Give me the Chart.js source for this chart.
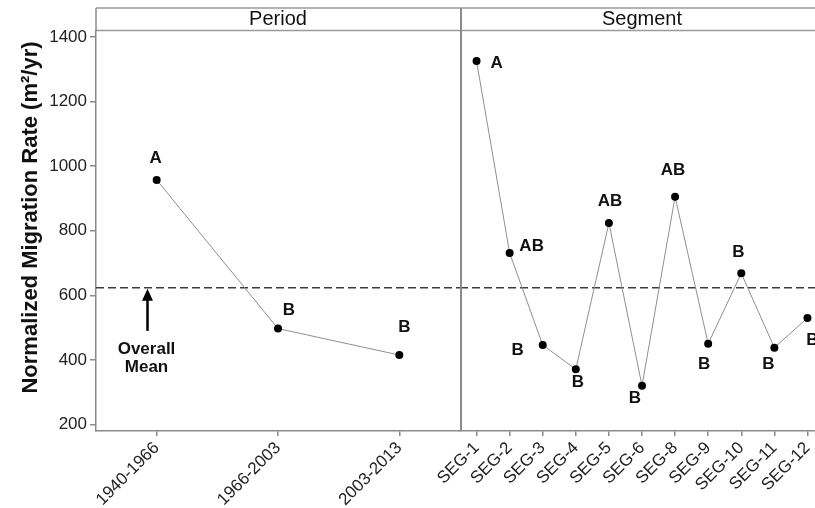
<!DOCTYPE html>
<html>
<head>
<meta charset="utf-8">
<title>Normalized Migration Rate by Period and Segment</title>
<script src="https://cdn.jsdelivr.net/npm/chart.js@4/dist/chart.umd.min.js"></script>
<style>
  html, body { margin: 0; padding: 0; background: #fff; overflow: hidden; }
  #wrap { position: relative; width: 815px; height: 508px; overflow: hidden; background: #fff; }
  #wrap canvas { position: absolute; top: 0; }
  #periodCanvas { left: 0; }
  #segmentCanvas { left: 380px; }
</style>
</head>
<body>
<div id="wrap">
  <canvas id="periodCanvas" width="460" height="508"></canvas>
  <canvas id="segmentCanvas" width="444" height="508"></canvas>
</div>
<script>
// ---- data ----
const periodLabels = ['1940-1966', '1966-2003', '2003-2013'];
const periodRates = [957, 497, 415];
const periodGroups = ['A', 'B', 'B'];

const segmentLabels = ['SEG-1', 'SEG-2', 'SEG-3', 'SEG-4', 'SEG-5', 'SEG-6',
                       'SEG-8', 'SEG-9', 'SEG-10', 'SEG-11', 'SEG-12'];
const segmentRates = [1325, 731, 446, 371, 824, 320, 905, 450, 668, 438, 530];
const segmentGroups = ['A', 'AB', 'B', 'B', 'AB', 'B', 'AB', 'B', 'B', 'B', 'B'];

const overallMean = 623;
const yTickValues = [200, 400, 600, 800, 1000, 1200, 1400];
const yTitle = 'Normalized Migration Rate (m\u00B2/yr)';
const meanNote = ['Overall', 'Mean'];

// ---- layout / style ----
const FONT = "'Liberation Sans', Arial, Helvetica, sans-serif";
const AXIS_GREY = '#8a8a8a';
const STRIP_TOP = 8;
const PLOT_TOP = 31;
const X_AXIS_H = 77;
const Y_AXIS_W = 96;
const SEG_LEFT_PAD = 80;   // room on the segment canvas for the first rotated label
const Y_MIN = 180, Y_MAX = 1418;
const TITLE_X = 31;        // centre of the vertical axis title

// letter placement relative to each point (px)
const periodLetterOffsets = [[-1, -22], [11, -18], [5, -28]];
const segmentLetterOffsets = [[20, 2], [22, -7], [-25, 5], [2, 13], [1, -22], [-7, 13],
                              [-2, -26], [-4, 21], [-3, -21], [-6, 17], [5, 22]];

function panelPlugin(cfg) {
  return {
    id: 'panelDecor',
    beforeDatasetsDraw(chart) {
      const { ctx, chartArea } = chart;
      const y = chart.scales.y.getPixelForValue(overallMean);
      ctx.save();
      ctx.strokeStyle = '#3c3c3c';
      ctx.lineWidth = 1.5;
      ctx.setLineDash([8, 4]);
      ctx.beginPath();
      ctx.moveTo(chartArea.left, y);
      ctx.lineTo(chart.width, y);
      ctx.stroke();
      ctx.restore();
    },
    afterDraw(chart) {
      const { ctx, chartArea } = chart;
      const yScale = chart.scales.y;
      ctx.save();
      // strip header
      ctx.strokeStyle = '#9a9a9a';
      ctx.lineWidth = 1.5;
      ctx.beginPath();
      ctx.moveTo(chartArea.left, STRIP_TOP);
      ctx.lineTo(chart.width, STRIP_TOP);
      ctx.moveTo(chartArea.left, PLOT_TOP - 0.5);
      ctx.lineTo(chart.width, PLOT_TOP - 0.5);
      ctx.stroke();
      ctx.strokeStyle = AXIS_GREY;
      ctx.beginPath();
      if (cfg.first) {
        ctx.moveTo(chartArea.left, STRIP_TOP);
        ctx.lineTo(chartArea.left, PLOT_TOP);
      } else {
        ctx.lineWidth = 2;
        ctx.moveTo(chartArea.left + 1, STRIP_TOP);
        ctx.lineTo(chartArea.left + 1, chartArea.bottom);
      }
      ctx.stroke();
      ctx.fillStyle = '#111';
      ctx.font = '20px ' + FONT;
      ctx.textAlign = 'center';
      ctx.textBaseline = 'middle';
      ctx.fillText(cfg.strip, (chartArea.left + chartArea.right) / 2, (STRIP_TOP + PLOT_TOP) / 2);

      // grouping letters
      const meta = chart.getDatasetMeta(0);
      ctx.font = 'bold 17px ' + FONT;
      meta.data.forEach((pt, i) => {
        const off = cfg.offsets[i];
        ctx.fillText(cfg.groups[i], pt.x + off[0], pt.y + off[1]);
      });

      if (cfg.first) {
        // vertical axis title, centred on the whole panel (strip included)
        ctx.save();
        ctx.translate(TITLE_X, (STRIP_TOP + chartArea.bottom) / 2 - 2);
        ctx.rotate(-Math.PI / 2);
        ctx.fillStyle = '#111';
        ctx.font = 'bold 22px ' + FONT;
        ctx.fillText(yTitle, 0, 0);
        ctx.restore();

        // overall mean arrow + note
        const tipX = chartArea.left + 51.5;
        const tipY = yScale.getPixelForValue(overallMean) + 1;
        ctx.fillStyle = '#000';
        ctx.strokeStyle = '#000';
        ctx.lineWidth = 2.5;
        ctx.beginPath();
        ctx.moveTo(tipX, tipY + 10);
        ctx.lineTo(tipX, tipY + 42);
        ctx.stroke();
        ctx.beginPath();
        ctx.moveTo(tipX, tipY);
        ctx.lineTo(tipX - 5.5, tipY + 12);
        ctx.lineTo(tipX + 5.5, tipY + 12);
        ctx.closePath();
        ctx.fill();
        ctx.fillStyle = '#111';
        ctx.font = 'bold 17px ' + FONT;
        ctx.fillText(meanNote[0], tipX - 1, tipY + 60);
        ctx.fillText(meanNote[1], tipX - 1, tipY + 78);
      }
      ctx.restore();
    }
  };
}

function makePanel(canvasId, labels, values, groups, offsets, strip, first) {
  return new Chart(document.getElementById(canvasId), {
    type: 'line',
    data: {
      labels: labels,
      datasets: [{
        data: values,
        borderColor: '#8f8f8f',
        borderWidth: 1,
        tension: 0,
        fill: false,
        pointRadius: 4,
        pointBackgroundColor: '#000',
        pointBorderColor: '#000',
        pointBorderWidth: 0,
        clip: false
      }]
    },
    options: {
      responsive: false,
      animation: false,
      devicePixelRatio: 1,
      layout: {
        autoPadding: false,
        padding: { top: PLOT_TOP, left: first ? 0 : SEG_LEFT_PAD, right: 0, bottom: 0 }
      },
      plugins: { legend: { display: false }, tooltip: { enabled: false } },
      scales: {
        x: {
          type: 'category',
          offset: true,
          grid: { display: true, drawOnChartArea: false, drawTicks: true, tickLength: 5, color: AXIS_GREY, lineWidth: 1.5 },
          border: { display: true, color: AXIS_GREY, width: 1.5 },
          ticks: { autoSkip: false, minRotation: 45, maxRotation: 45, padding: 2, color: '#222', font: { family: FONT, size: 17 } },
          afterFit(s) { s.height = X_AXIS_H; s.paddingLeft = 0; s.paddingRight = 0; }
        },
        y: {
          display: first,
          min: Y_MIN,
          max: Y_MAX,
          grid: { display: true, drawOnChartArea: false, drawTicks: true, tickLength: 6, color: AXIS_GREY, lineWidth: 1.5 },
          border: { display: true, color: AXIS_GREY, width: 1.5 },
          ticks: { padding: 3, color: '#222', font: { family: FONT, size: 17 }, callback: v => String(v) },
          afterBuildTicks(s) { s.ticks = yTickValues.map(v => ({ value: v })); },
          title: { display: false },
          afterFit(s) { if (first) s.width = Y_AXIS_W; s.paddingTop = 0; s.paddingBottom = 0; }
        }
      }
    },
    plugins: [panelPlugin({ first, strip, groups, offsets })]
  });
}

makePanel('periodCanvas', periodLabels, periodRates, periodGroups, periodLetterOffsets, 'Period', true);
makePanel('segmentCanvas', segmentLabels, segmentRates, segmentGroups, segmentLetterOffsets, 'Segment', false);
</script>
</body>
</html>
